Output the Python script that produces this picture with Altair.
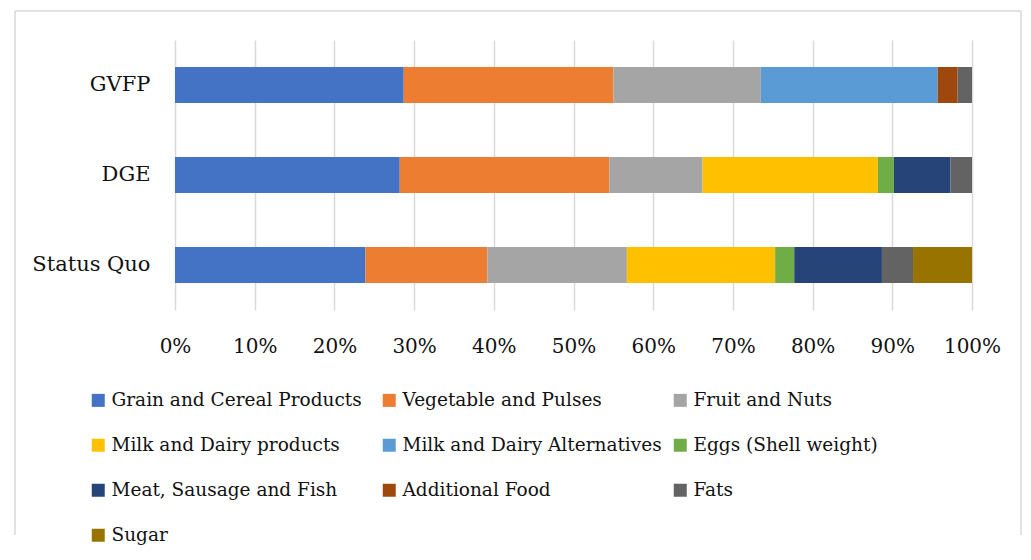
import altair as alt
import pandas as pd

groups = ["Status Quo", "DGE", "GVFP"]
categories = [
    "Grain and Cereal Products", "Vegetable and Pulses", "Fruit and Nuts",
    "Milk and Dairy products", "Milk and Dairy Alternatives", "Eggs (Shell weight)",
    "Meat, Sausage and Fish", "Additional Food", "Fats", "Sugar",
]
colors = ["#4472C4", "#ED7D31", "#A5A5A5", "#FFC000", "#5B9BD5",
          "#70AD47", "#264478", "#9E480E", "#636363", "#997300"]

# shares (%) per group: Status Quo, DGE, GVFP
grain = [23.9, 28.2, 28.7]
vegetable = [15.3, 26.3, 26.3]
fruit = [17.5, 11.7, 18.5]
milk = [18.6, 22.0, 0.0]
milk_alt = [0.0, 0.0, 22.2]
eggs = [2.4, 2.0, 0.0]
meat = [11.0, 7.1, 0.0]
additional = [0.0, 0.0, 2.5]
fats = [3.9, 2.7, 1.8]
sugar = [7.4, 0.0, 0.0]

series = [grain, vegetable, fruit, milk, milk_alt, eggs, meat, additional, fats, sugar]
x_ticks = [0, 0.1, 0.2, 0.3, 0.4, 0.5, 0.6, 0.7, 0.8, 0.9, 1.0]

rows = []
for ci, (cat, vals) in enumerate(zip(categories, series)):
    for g, v in zip(groups, vals):
        if v > 0:
            rows.append({"group": g, "category": cat, "value": v, "order": ci})
df = pd.DataFrame(rows)

FONT = "DejaVu Serif"
BORDER = "#d9d9d9"
TEXT = "#111111"

bars = alt.Chart(df).mark_bar().encode(
    x=alt.X("sum(value):Q", stack="normalize",
            axis=alt.Axis(values=x_ticks, format=".0%", title=None)),
    y=alt.Y("group:N", sort=["GVFP", "DGE", "Status Quo"], title=None,
            scale=alt.Scale(paddingInner=0.6, paddingOuter=0.3)),
    color=alt.Color("category:N", sort=categories,
                    scale=alt.Scale(domain=categories, range=colors),
                    legend=alt.Legend(title=None, orient="none", legendX=-86, legendY=351,
                                      direction="horizontal",
                                      columns=3, symbolType="square", symbolSize=169,
                                      symbolStrokeWidth=0, labelFontSize=18.5, labelFont=FONT,
                                      labelColor=TEXT, labelLimit=500, labelOffset=4,
                                      gridAlign="all", columnPadding=9, rowPadding=26)),
    order=alt.Order("order:Q"),
)

frame_df = pd.DataFrame({"k": [0]})
top = alt.Chart(frame_df).mark_rule(color=BORDER, strokeWidth=1.5).encode(
    x=alt.value(-160), x2=alt.value(846), y=alt.value(-29))
left = alt.Chart(frame_df).mark_rule(color=BORDER, strokeWidth=1.5).encode(
    x=alt.value(-160), y=alt.value(-29), y2=alt.value(495))
right = alt.Chart(frame_df).mark_rule(color=BORDER, strokeWidth=1.5).encode(
    x=alt.value(846), y=alt.value(-29), y2=alt.value(495))

chart = alt.layer(bars, top, left, right).properties(
    width=797, height=270,
    padding={"left": 6, "top": 2, "right": 0, "bottom": 0},
).configure_view(stroke=None).configure_axisX(
    grid=True, gridColor=BORDER, gridWidth=1.5, domain=False, ticks=False,
    labelFont=FONT, labelFontSize=20, labelColor=TEXT, labelPadding=26,
    labelFlush=False, labelOverlap=False,
).configure_axisY(
    grid=False, domain=False, ticks=False,
    labelFont=FONT, labelFontSize=21, labelColor=TEXT, labelPadding=25,
)

chart.save("out.html", embed_options={"renderer": "svg", "actions": False})
